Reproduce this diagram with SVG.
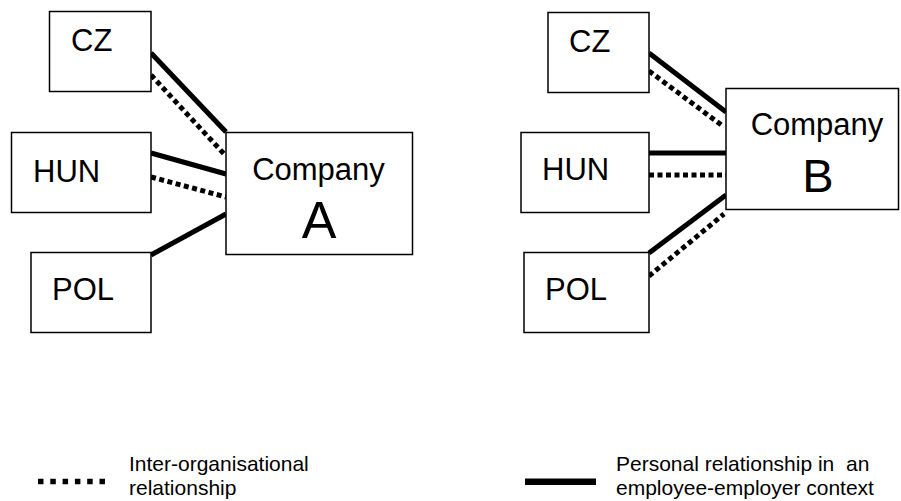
<svg xmlns="http://www.w3.org/2000/svg" width="901" height="501" viewBox="0 0 901 501">
  <style>
    .box { fill: #fff; stroke: #000; stroke-width: 1.5; }
    .lbl { font-family: "Liberation Sans", Arial, sans-serif; fill: #000; }
    .node { font-size: 31px; }
    .co { font-size: 31px; text-anchor: middle; }
    .big { text-anchor: middle; }
    .leg { font-size: 21px; }
    .solid { stroke: #000; stroke-width: 5; fill: none; }
    .dot { stroke: #000; stroke-width: 5; fill: none; stroke-dasharray: 5 3.5; }
  </style>
  <rect width="901" height="501" fill="#fff"/>

  <!-- connectors -->
  <g id="connectors">
    <!-- company A -->
    <line class="solid" x1="151" y1="53" x2="226" y2="132"/>
    <line class="dot" x1="151" y1="75" x2="225" y2="155"/>
    <line class="solid" x1="151" y1="153" x2="226" y2="174"/>
    <line class="dot" x1="151" y1="177" x2="226" y2="197"/>
    <line class="solid" x1="151" y1="255" x2="226" y2="214"/>
    <!-- company B -->
    <line class="solid" x1="649" y1="53" x2="726" y2="112"/>
    <line class="dot" x1="649" y1="71" x2="724" y2="127"/>
    <line class="solid" x1="649" y1="153" x2="726" y2="153"/>
    <line class="dot" x1="649" y1="175" x2="726" y2="175"/>
    <line class="solid" x1="649" y1="253" x2="726" y2="195"/>
    <line class="dot" x1="649" y1="276" x2="724" y2="214"/>
  </g>

  <!-- left cluster -->
  <g id="a-cz">
    <rect class="box" x="49.5" y="11.5" width="101.5" height="80"/>
    <text class="lbl node" x="71" y="51">CZ</text>
  </g>
  <g id="a-hun">
    <rect class="box" x="11.5" y="132.5" width="139.5" height="80"/>
    <text class="lbl node" x="33" y="182">HUN</text>
  </g>
  <g id="a-pol">
    <rect class="box" x="31" y="252.5" width="120" height="80"/>
    <text class="lbl node" x="52" y="300">POL</text>
  </g>
  <g id="company-a">
    <rect class="box" x="226" y="132.5" width="186.5" height="122"/>
    <text class="lbl co" x="318.5" y="180">Company</text>
    <text class="lbl big" x="319" y="238" font-size="52">A</text>
  </g>

  <!-- right cluster -->
  <g id="b-cz">
    <rect class="box" x="548" y="12.5" width="101" height="80"/>
    <text class="lbl node" x="569" y="52">CZ</text>
  </g>
  <g id="b-hun">
    <rect class="box" x="521" y="132.5" width="128" height="80"/>
    <text class="lbl node" x="542" y="180">HUN</text>
  </g>
  <g id="b-pol">
    <rect class="box" x="524" y="252.5" width="125" height="80"/>
    <text class="lbl node" x="545" y="300">POL</text>
  </g>
  <g id="company-b">
    <rect class="box" x="726" y="88.5" width="172.5" height="121"/>
    <text class="lbl co" x="817" y="135">Company</text>
    <text class="lbl big" x="818" y="192" font-size="47">B</text>
  </g>

  <!-- legend -->
  <g id="legend-dotted">
    <line x1="38" y1="481.5" x2="105" y2="481.5" stroke="#000" stroke-width="5.5" stroke-dasharray="5.5 6.8"/>
    <text class="lbl leg" x="129" y="471">Inter-organisational</text>
    <text class="lbl leg" x="129" y="495">relationship</text>
  </g>
  <g id="legend-solid">
    <line x1="525" y1="481.7" x2="596" y2="481.7" stroke="#000" stroke-width="6.5"/>
    <text class="lbl leg" x="616" y="471" xml:space="preserve">Personal relationship in  an</text>
    <text class="lbl leg" x="616" y="495">employee-employer context</text>
  </g>
</svg>
